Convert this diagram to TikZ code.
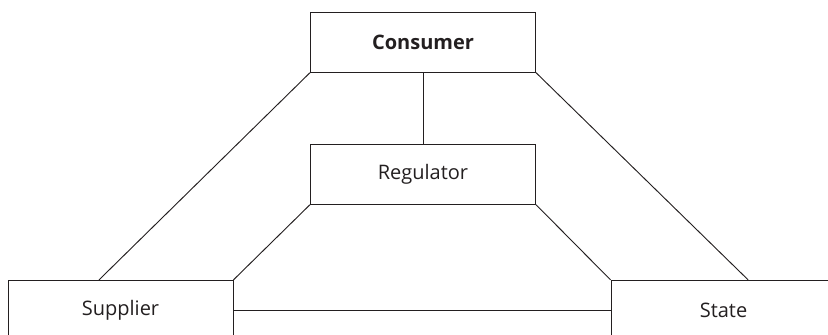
\documentclass[tikz,border=0pt]{standalone}
\usepackage{fontspec}
\setmainfont{Open Sans}
\usepackage{xcolor}
\usepackage{tikz}
\usetikzlibrary{calc}

\definecolor{ink}{HTML}{231F20}

\begin{document}
\begin{tikzpicture}[
  x=0.75pt,y=-0.75pt,
  party/.style={draw=ink,line width=0.7pt,minimum width=168.75pt,minimum height=44.5pt,inner sep=0pt,text=ink,font=\fontsize{15}{18}\selectfont},
  link/.style={draw=ink,line width=0.7pt}
]
  \clip (0,0) rectangle (828,335);

  % Parties
  \node[party,font=\fontsize{15}{18}\selectfont\bfseries] (consumer) at (423,42.5) {Consumer};
  \node[party] (regulator) at (423,174.5) {Regulator};
  \node[party] (supplier) at (120.5,310) {Supplier};
  \node[party] (state) at (723.5,310) {State};

  % Links
  \draw[link] (consumer) -- (regulator);
  \draw[link] (consumer.south west) -- ($(supplier.north west)!0.405!(supplier.north east)$);
  \draw[link] (consumer.south east) -- ($(state.north west)!0.609!(state.north east)$);
  \draw[link] (regulator.south west) -- (supplier.north east);
  \draw[link] (regulator.south east) -- (state.north west);
  \draw[link] (supplier.east) -- (state.west);
\end{tikzpicture}
\end{document}
